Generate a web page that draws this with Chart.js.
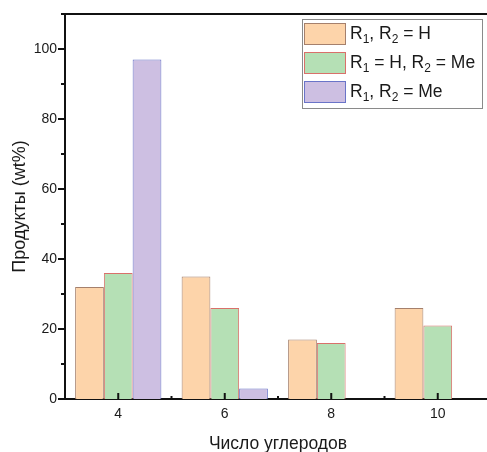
<!DOCTYPE html>
<html>
<head>
<meta charset="utf-8">
<script src="https://cdn.jsdelivr.net/npm/chart.js@4"></script>
<style>
  html, body { margin: 0; padding: 0; background: #fff; }
  #wrap { width: 487px; height: 452px; overflow: hidden; }
</style>
</head>
<body>
<div id="wrap">
  <canvas id="chart" width="495" height="455"></canvas>
</div>
<script>
// ---- данные ----
const categories = ["4", "6", "8", "10"];
const seriesLabels = ["R₁, R₂ = H", "R₁ = H, R₂ = Me", "R₁, R₂ = Me"];
const valuesHH = [32, 35, 17, 26];
const valuesHMe = [36, 26, 16, 21];
const valuesMeMe = [97, 3, 0, 0];
const yMajorTicks = [0, 20, 40, 60, 80, 100];

const FONT = "'Liberation Sans', Arial, sans-serif";

// рамка, засечки и легенда внутри области графика
const axisDecor = {
  id: "axisDecor",
  afterDraw(chart) {
    const ctx = chart.ctx;
    const { left, right, top, bottom } = chart.chartArea;
    const x = chart.scales.x, y = chart.scales.y;
    ctx.save();
    ctx.strokeStyle = "#111";
    ctx.lineWidth = 2;
    ctx.beginPath();
    ctx.moveTo(left - 1, top);
    ctx.lineTo(right, top);
    ctx.stroke();

    // засечки по Y (наружу)
    for (let v = 0; v <= 110; v += 10) {
      const py = y.getPixelForValue(v);
      const len = yMajorTicks.includes(v) ? 7 : 4;
      ctx.beginPath();
      ctx.moveTo(left, py);
      ctx.lineTo(left - len, py);
      ctx.stroke();
    }
    // засечки по X (внутрь)
    categories.forEach((c, i) => {
      const px = x.getPixelForValue(i);
      ctx.beginPath();
      ctx.moveTo(px, bottom);
      ctx.lineTo(px, bottom - 6);
      ctx.stroke();
      if (i < categories.length - 1) {
        const mx = (px + x.getPixelForValue(i + 1)) / 2;
        ctx.beginPath();
        ctx.moveTo(mx, bottom);
        ctx.lineTo(mx, bottom - 3);
        ctx.stroke();
      }
    });

    // легенда
    const bx = right - 189, by = top + 5, bw = 180, bh = 89;
    ctx.lineWidth = 1;
    ctx.strokeStyle = "#8a8a8a";
    ctx.fillStyle = "#fff";
    ctx.fillRect(bx, by, bw, bh);
    ctx.strokeRect(bx + 0.5, by + 0.5, bw, bh);
    chart.data.datasets.forEach((ds, i) => {
      const ry = by + 4 + i * 29;
      ctx.fillStyle = ds.backgroundColor;
      ctx.fillRect(bx + 2, ry, 42, 22);
      ctx.strokeStyle = ds.borderColor;
      ctx.strokeRect(bx + 2.5, ry + 0.5, 41, 21);
      drawSubText(ctx, ds.label, bx + 48, ry + 11);
    });
    ctx.restore();
  }
};

// текст с подстрочными индексами ₁ ₂
function drawSubText(ctx, text, x0, yMid) {
  const subs = { "₁": "1", "₂": "2" };
  let x = x0;
  ctx.fillStyle = "#1a1a1a";
  ctx.textBaseline = "middle";
  ctx.textAlign = "left";
  for (const ch of text) {
    if (subs[ch]) {
      ctx.font = "12px " + FONT;
      ctx.fillText(subs[ch], x, yMid + 6);
      x += ctx.measureText(subs[ch]).width;
    } else {
      ctx.font = "17.5px " + FONT;
      ctx.fillText(ch, x, yMid);
      x += ctx.measureText(ch).width;
    }
  }
}

new Chart(document.getElementById("chart").getContext("2d"), {
  type: "bar",
  data: {
    labels: categories,
    datasets: [
      { label: seriesLabels[0], data: valuesHH, backgroundColor: "#fdd4aa", borderColor: "#a5806c", borderWidth: 1 },
      { label: seriesLabels[1], data: valuesHMe, backgroundColor: "#b5e0b5", borderColor: "#d9706a", borderWidth: 1 },
      { label: seriesLabels[2], data: valuesMeMe, backgroundColor: "#cdbfe2", borderColor: "#6a74c8", borderWidth: 1 }
    ]
  },
  options: {
    responsive: false,
    animation: false,
    devicePixelRatio: 1,
    layout: { padding: { top: 14, right: 4, left: 0 } },
    datasets: { bar: { barPercentage: 1, categoryPercentage: 0.81 } },
    plugins: { legend: { display: false }, tooltip: { enabled: false } },
    scales: {
      x: {
        afterFit: s => { s.height = 56; },
        grid: { display: false, drawTicks: false },
        border: { display: true, color: "#111", width: 2 },
        ticks: { color: "#1a1a1a", padding: 7, font: { family: FONT, size: 14 } },
        title: { display: true, text: "Число углеродов", color: "#1a1a1a",
                 font: { family: FONT, size: 17.5 }, padding: { top: 1, bottom: 0 } }
      },
      y: {
        min: 0, max: 110,
        afterFit: s => { s.width = 65; s.paddingTop = 0; },
        grid: { display: false, drawTicks: false },
        border: { display: true, color: "#111", width: 2 },
        ticks: {
          stepSize: 10, color: "#1a1a1a", padding: 8, font: { family: FONT, size: 14 },
          callback: v => yMajorTicks.includes(v) ? v : ""
        },
        title: { display: true, text: "Продукты (wt%)", color: "#1a1a1a",
                 font: { family: FONT, size: 18 }, padding: { top: 9, bottom: 3 } }
      }
    }
  },
  plugins: [axisDecor]
});
</script>
</body>
</html>
